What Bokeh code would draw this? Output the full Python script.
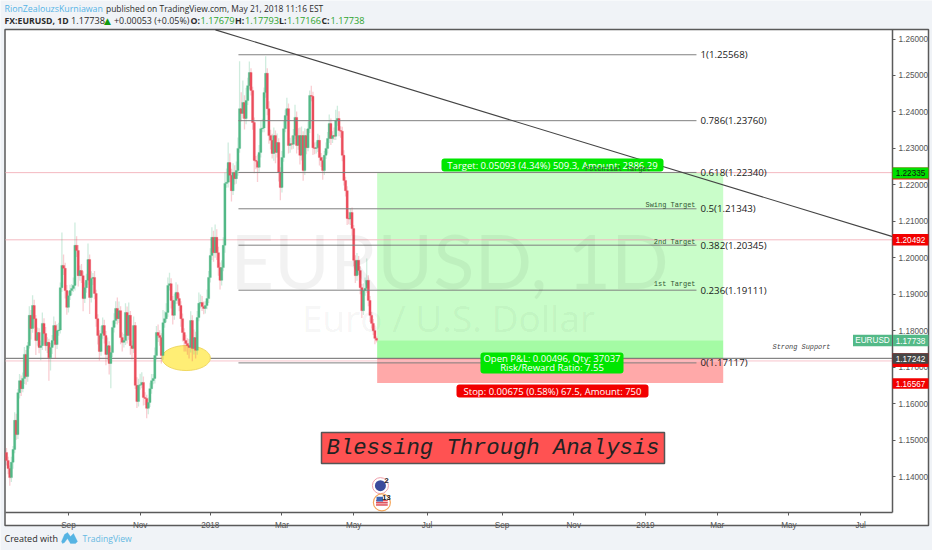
from bokeh.plotting import figure
from bokeh.embed import file_html
from bokeh.resources import INLINE
from bokeh.models import (Label, BoxAnnotation, PolyAnnotation, FixedTicker,
                          NumeralTickFormatter, Range1d, ColumnDataSource)

# ---------- data ----------
first_open = 1.1466
closes = [
 1.1444,1.1422,1.1397,1.1439,1.1474,1.1554,1.1515,1.1630,1.1663,1.1641,
 1.1669,1.1735,1.1674,1.1759,1.1842,1.1806,1.1869,1.1833,1.1773,1.1795,
 1.1754,1.1759,1.1820,1.1792,1.1759,1.1768,1.1726,1.1754,1.1773,1.1814,
 1.1762,1.1800,1.1802,1.1918,1.1979,1.1971,1.1910,1.1864,1.1896,1.1910,
 1.1916,1.1924,1.2034,1.2020,1.1951,1.1965,1.1951,1.1888,1.1918,1.1938,
 1.1995,1.1891,1.1943,1.1946,1.1902,1.1833,1.1787,1.1743,1.1792,1.1814,
 1.1787,1.1735,1.1759,1.1710,1.1740,1.1809,1.1828,1.1861,1.1833,1.1855,
 1.1781,1.1768,1.1773,1.1850,1.1787,1.1842,1.1759,1.1751,1.1814,1.1650,
 1.1606,1.1650,1.1652,1.1658,1.1617,1.1614,1.1587,1.1603,1.1641,1.1663,
 1.1669,1.1732,1.1795,1.1787,1.1781,1.1732,1.1822,1.1833,1.1850,1.1924,
 1.1929,1.1883,1.1842,1.1883,1.1905,1.1888,1.1869,1.1833,1.1795,1.1773,
 1.1765,1.1759,1.1754,1.1828,1.1751,1.1781,1.1746,1.1836,1.1875,1.1877,
 1.1866,1.1861,1.1869,1.1888,1.1946,1.2006,1.2056,1.2014,1.2056,1.2014,
 1.1973,1.1938,1.1973,1.2034,1.2204,1.2207,1.2261,1.2226,1.2184,1.2234,
 1.2217,1.2239,1.2300,1.2409,1.2396,1.2426,1.2382,1.2431,1.2472,1.2508,
 1.2459,1.2371,1.2267,1.2265,1.2248,1.2289,1.2354,1.2356,1.2453,1.2506,
 1.2409,1.2335,1.2322,1.2286,1.2335,1.2289,1.2316,1.2234,1.2193,1.2275,
 1.2354,1.2390,1.2409,1.2308,1.2313,1.2311,1.2335,1.2385,1.2308,1.2335,
 1.2281,1.2335,1.2239,1.2335,1.2302,1.2354,1.2445,1.2443,1.2302,1.2300,
 1.2302,1.2322,1.2275,1.2267,1.2239,1.2281,1.2300,1.2327,1.2368,1.2327,
 1.2335,1.2333,1.2376,1.2382,1.2349,1.2347,1.2281,1.2212,1.2184,1.2108,
 1.2106,1.2124,1.2080,1.1993,1.1951,1.1993,1.1965,1.1918,1.1855,1.1910,
 1.1916,1.1938,1.1883,1.1842,1.1820,1.1800,1.1779,1.17738]
wick_up_pips = [
 12,10,8,15,10,22,18,10,18,14, 16,20,12,10,25,15,28,16,10,14,
 12,14,30,14,18,14,10,12,15,25, 12,18,20,14,90,30,15,15,12,16,
 12,22,63,25,15,14,18,12,14,18, 44,14,20,12,18,10,12,14,20,22,
 16,12,22,12,14,18,20,20,30,25, 12,14,18,25,16,35,12,14,25,10,
 22,18,30,28,16,14,10,14,16,18, 12,22,18,22,14,12,35,20,25,22,
 30,15,12,18,28,22,14,12,14,12, 16,14,18,25,14,22,16,18,30,22,
 18,14,12,25,18,20,28,18,35,22, 16,14,20,22,30,38,55,25,18,25,
 20,25,30,130,45,60,20,35,22,30, 12,10,14,12,18,20,22,25,14,47,
 14,20,16,18,22,14,25,12,14,18, 22,16,30,14,16,22,18,35,16,20,
 22,25,12,20,18,20,14,27,12,14, 16,18,14,12,10,12,16,18,25,14,
 12,22,30,35,20,12,12,14,10,12, 18,12,14,10,14,20,12,12,10,20,
 30,60,14,12,10,12,14,5]
wick_dn_pips = [
 14,16,22,12,18,10,14,12,16,20, 10,15,22,14,8,30,12,25,40,14,
 16,35,12,30,14,20,63,35,18,14, 40,12,14,10,12,18,22,20,14,12,
 12,10,14,18,30,14,20,35,12,14, 12,45,14,18,16,22,25,25,12,14,
 22,30,16,30,68,12,14,10,16,12, 18,25,14,12,22,12,25,30,12,10,
 18,14,12,10,22,18,27,16,12,14, 10,14,12,18,22,22,12,14,10,12,
 14,22,25,12,10,14,16,22,25,30, 22,25,30,14,35,16,22,12,10,14,
 12,16,14,10,12,14,12,25,14,20, 22,25,14,10,20,12,14,18,30,12,
 16,14,14,12,22,14,30,16,12,10, 14,20,35,22,40,12,14,10,12,14,
 18,22,25,14,20,30,14,25,35,14, 12,10,14,22,20,14,12,10,22,12,
 25,14,28,12,18,10,12,14,20,16, 14,12,22,18,25,12,10,14,12,18,
 12,10,10,14,16,18,16,14,16,18, 14,16,18,16,20,14,12,18,20,12,
 14,12,16,18,14,12,16,6]
assert len(closes) == len(wick_up_pips) == len(wick_dn_pips) == 228

fib_values = [1.25568, 1.23760, 1.22340, 1.21343, 1.20345, 1.19111, 1.17117]
fib_labels = ["1(1.25568)", "0.786(1.23760)", "0.618(1.22340)", "0.5(1.21343)",
              "0.382(1.20345)", "0.236(1.19111)", "0(1.17117)"]
tick_bars = [38, 82, 125, 169, 213, 258, 304, 348, 392, 436, 480, 524]
tick_text = ["Sep", "Nov", "2018", "Mar", "May", "Jul", "Sep", "Nov", "2019", "Mar", "May", "Jul"]
price_ticks = [1.14, 1.15, 1.16, 1.17, 1.18, 1.19, 1.20, 1.21, 1.22, 1.23, 1.24, 1.25, 1.26]
target_price, entry_price, stop_price, last_price = 1.22335, 1.17242, 1.16567, 1.17738
resistance_2, support_pink = 1.20492, 1.1717
trend_bars, trend_prices = [128.2, 543.6], [1.2625, 1.2058]
pane_bars = (-0.61, 543.6)
pane_prices = (1.13013, 1.26247)

opens = [first_open] + closes[:-1]
highs = [max(o, c) + w / 10000 for o, c, w in zip(opens, closes, wick_up_pips)]
lows = [min(o, c) - w / 10000 for o, c, w in zip(opens, closes, wick_dn_pips)]
bars = list(range(len(closes)))
UP, DOWN = "#53b987", "#eb4d5c"
colors = [UP if c >= o else DOWN for o, c in zip(opens, closes)]
src = ColumnDataSource(dict(x=bars, o=opens, c=closes, h=highs, l=lows, col=colors))

p = figure(width=932, height=550, output_backend="svg", toolbar_location=None,
           x_range=Range1d(-3.68, 568.1), y_range=Range1d(1.11971, 1.27056),
           y_axis_location="right", min_border_left=0, min_border_right=0,
           min_border_top=0, min_border_bottom=0)
p.border_fill_color = "#f0f3f7"
p.background_fill_color = "#f0f3f7"
p.outline_line_color = None
p.grid.visible = False

AX = "#5a5a5a"
for ax in (p.xaxis[0], p.yaxis[0]):
    ax.axis_line_color = AX
    ax.axis_line_width = 1.5
    ax.major_tick_line_color = AX
    ax.major_tick_in = 0
    ax.major_tick_out = 3
    ax.minor_tick_line_color = None
    ax.major_label_text_color = "#555555"
    ax.major_label_text_font = "Liberation Sans"
    ax.major_label_text_font_size = "8.2px"
    ax.major_label_standoff = 3
p.yaxis[0].ticker = FixedTicker(ticks=price_ticks)
p.yaxis[0].formatter = NumeralTickFormatter(format="0.00000")
p.yaxis[0].fixed_location = pane_bars[1]
p.yaxis[0].bounds = pane_prices
p.xaxis[0].ticker = FixedTicker(ticks=tick_bars)
p.xaxis[0].major_label_overrides = dict(zip(tick_bars, tick_text))
p.xaxis[0].major_label_standoff = 5
p.xaxis[0].fixed_location = pane_prices[0]
p.xaxis[0].bounds = pane_bars


def box(l, t, r, b, fill, line=None, lw=1, radius=0, level="annotation"):
    a = BoxAnnotation(left=l, right=r, top=t, bottom=b, left_units="canvas", right_units="canvas",
                      top_units="canvas", bottom_units="canvas", fill_color=fill, fill_alpha=1,
                      line_color=line, line_width=lw, line_alpha=1, border_radius=radius, level=level)
    p.add_layout(a)


def lab(x, y, text, size, color="#222222", font="Open Sans", style="normal", align="left", alpha=1.0):
    p.add_layout(Label(x=x, y=y, x_units="canvas", y_units="canvas", text=text, text_font=font,
                       text_font_size=f"{size}px", text_color=color, text_font_style=style, text_alpha=alpha,
                       text_align=align, text_baseline="middle"))


# outer panel behind the plot and the axes
box(4.5, 29, 928, 525, "#ffffff", "#5a5a5a", 1.5, level="underlay")

# long position box
p.quad(left=[227.4], right=[439.7], top=[target_price], bottom=[last_price], fill_color="#c9fdc9", line_color=None)
p.quad(left=[227.4], right=[439.7], top=[last_price], bottom=[entry_price], fill_color="#a4fba4", line_color=None)
p.quad(left=[227.4], right=[439.7], top=[entry_price], bottom=[stop_price], fill_color="#ffa9a9", line_color=None)

# watermark
lab(449, 259, "EURUSD, 1D", 76, "#000000", "Lato", align="center", alpha=0.05)
lab(448, 317, "Euro / U.S. Dollar", 37, "#000000", "Open Sans", align="center", alpha=0.05)

# horizontal lines
for v, c in ((target_price, "#f4b9c1"), (resistance_2, "#f4b9c1"), (support_pink, "#f8c4cc"), (entry_price, "#6a6a6a")):
    p.segment(x0=[pane_bars[0]], x1=[pane_bars[1]], y0=[v], y1=[v], color=c, line_width=1)

# yellow ellipse
p.ellipse(x=[110.2], y=[1.1725], width=29.7, height=0.00686, fill_color="#ffee75",
          line_color="#f0d860", line_width=1)

# candles
p.segment(x0="x", x1="x", y0="l", y1="h", color="col", line_alpha=0.28, line_width=1.3, source=src)
p.vbar(x="x", width=1.35, top="o", bottom="c", fill_color="col", line_color="col", line_width=0.3, source=src)

# fib levels and trend line
p.segment(x0=[142.3] * 7, x1=[423.3] * 7, y0=fib_values, y1=fib_values, color="#808080", line_width=1)
p.line(trend_bars, trend_prices, color="#444444", line_width=1.1)

# earnings & dividend markers
p.scatter(x=[229.4], y=[1.1375], size=16, marker="circle", fill_color="#ffffff", line_color="#ef9fab", line_width=1)
p.scatter(x=[229.4], y=[1.1375], size=11, marker="circle", fill_color="#3b4a9c", line_color=None)
p.scatter(x=[230.3], y=[1.1329], size=17, marker="circle", fill_color="#ffffff", line_color="#f5a65b", line_width=1.2)
p.rect(x=[230.3] * 3, y=[1.1322, 1.1328, 1.1334], width=7.2, height=0.00042, fill_color="#e0505a", line_color=None)
p.rect(x=[229], y=[1.1338], width=4, height=0.0013, fill_color="#3b64b4", line_color=None)

# fib labels
for v, t in zip(fib_values, fib_labels):
    p.add_layout(Label(x=700, y=v, x_units="canvas", y_units="data", text=t, text_font="Open Sans",
                       text_font_size="9.7px", text_color="#1a1a1a", text_baseline="middle"))

# position tags
box(441, 158, 663, 171, "#00e600", radius=3)
lab(552, 164.5, "Target: 0.05093 (4.34%) 509.3, Amount: 2886.29", 9.5, "#ffffff", align="center")
box(480, 352, 623, 373, "#00e600", radius=3)
lab(551.5, 358, "Open P&L: 0.00496, Qty: 37037", 9.5, "#ffffff", align="center")
lab(551.5, 366.5, "Risk/Reward Ratio: 7.55", 9.5, "#ffffff", align="center")
box(456, 384, 648, 397, "#f20000", radius=3)
lab(552, 390.5, "Stop: 0.00675 (0.58%) 67.5, Amount: 750", 9.5, "#ffffff", align="center")

# notes
MONO = "Liberation Mono"
lab(650, 168, "Potential Target", 6.8, "#335533", MONO, align="right")
lab(695, 204.7, "Swing Target", 6.95, "#335533", MONO, align="right")
lab(695, 241.3, "2nd Target", 6.95, "#335533", MONO, align="right")
lab(695, 283.7, "1st Target", 6.95, "#335533", MONO, align="right")
lab(801, 346, "Strong Support", 6.9, "#444444", MONO, "italic", "center")

# banner
box(321, 432, 664, 463, "#ff5252", "#555555", 1.5)
lab(492.5, 448, "Blessing Through Analysis", 22.2, "#222222", MONO, "italic", "center")

# event counters
lab(386, 480, "2", 7.5, "#222222", "Liberation Sans", "bold", "center")
lab(386, 497, "13", 7.5, "#222222", "Liberation Sans", "bold", "center")

# right axis price tags
box(892, 167, 928, 179, "#ee1111")
box(892, 167, 928, 178, "#00e000")
lab(910, 172.5, "1.22335", 8.2, "#111111", "Liberation Sans", align="center")
box(892, 233.5, 928, 245, "#f20000")
lab(910, 239.5, "1.20492", 8.2, "#ffffff", "Liberation Sans", align="center")
box(852.5, 334.3, 891.5, 345.7, UP)
lab(872, 340, "EURUSD", 8.2, "#ffffff", "Liberation Sans", align="center")
box(892.5, 334.3, 928, 345.7, UP)
lab(910, 340, "1.17738", 8.2, "#ffffff", "Liberation Sans", align="center")
box(892, 352.7, 928, 366.5, "#f20000")
box(892, 352.7, 928, 363.3, "#474747")
lab(910, 358, "1.17242", 8.2, "#ffffff", "Liberation Sans", align="center")
box(892, 377.7, 928, 388.3, "#f20000")
lab(910, 383, "1.16567", 8.2, "#ffffff", "Liberation Sans", align="center")

# header
BLUE, GREEN, DARK = "#55b4e6", "#2ea32e", "#2b2b2b"
lab(4, 8, "RionZealouzsKurniawan", 8.8, BLUE)
lab(105.5, 8, "published on TradingView.com, May 21, 2018 11:16 EST", 8.45, DARK)
lab(4, 20, "FX:EURUSD, 1D", 8.7, DARK, style="bold")
lab(70.5, 20, "1.17738", 9.2, DARK)
lab(103.5, 20, "\u25B2", 9, "#0f9a0f", "DejaVu Sans")
lab(113.5, 20, "+0.00053 (+0.05%)", 8.9, DARK)
for x, name, xv, val in ((190, "O:", 200, "1.17679"), (234.5, "H:", 244.5, "1.17793"),
                         (278.5, "L:", 286.5, "1.17166"), (321, "C:", 330, "1.17738")):
    lab(x, 20, name, 8.8, DARK, style="bold")
    lab(xv, 20, val, 9.2, GREEN)

# footer
lab(4, 538, "Created with", 9.0, DARK)
p.add_layout(PolyAnnotation(xs=[61, 64, 67, 70, 73, 77, 75, 70, 67, 64, 62],
                            ys=[541, 534, 532, 536, 533, 541, 543, 543, 538, 542, 543],
                            xs_units="canvas", ys_units="canvas", fill_color="#56b4e3", fill_alpha=1,
                            line_color="#56b4e3", line_width=1))
lab(82, 538, "TradingView", 8.6, "#66b9e2")

open("out.html", "w").write(file_html(p, INLINE))
